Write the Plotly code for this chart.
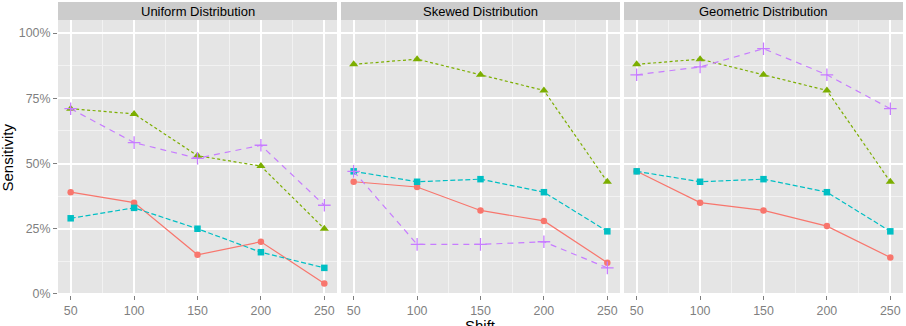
import plotly.graph_objects as go

# ---- data ----
shift = [50, 100, 150, 200, 250]
panels = ["Uniform Distribution", "Skewed Distribution", "Geometric Distribution"]
series_names = ["Series 1", "Series 2", "Series 3", "Series 4"]

uniform_s1 = [0.39, 0.35, 0.15, 0.20, 0.04]
uniform_s2 = [0.71, 0.69, 0.53, 0.49, 0.25]
uniform_s3 = [0.29, 0.33, 0.25, 0.16, 0.10]
uniform_s4 = [0.71, 0.58, 0.52, 0.57, 0.34]

skewed_s1 = [0.43, 0.41, 0.32, 0.28, 0.12]
skewed_s2 = [0.88, 0.90, 0.84, 0.78, 0.43]
skewed_s3 = [0.47, 0.43, 0.44, 0.39, 0.24]
skewed_s4 = [0.47, 0.19, 0.19, 0.20, 0.10]

geometric_s1 = [0.47, 0.35, 0.32, 0.26, 0.14]
geometric_s2 = [0.88, 0.90, 0.84, 0.78, 0.43]
geometric_s3 = [0.47, 0.43, 0.44, 0.39, 0.24]
geometric_s4 = [0.84, 0.87, 0.94, 0.84, 0.71]

y_ticks = [0, 0.25, 0.5, 0.75, 1.0]
y_tick_labels = ["0%", "25%", "50%", "75%", "100%"]
x_minor = [75, 125, 175, 225]
y_minor = [0.125, 0.375, 0.625, 0.875]

panel_data = [
    [uniform_s1, uniform_s2, uniform_s3, uniform_s4],
    [skewed_s1, skewed_s2, skewed_s3, skewed_s4],
    [geometric_s1, geometric_s2, geometric_s3, geometric_s4],
]

# ---- styles ----
colors = ["#F8766D", "#7CAE00", "#00BFC4", "#C77CFF"]
dashes = ["solid", "3px,2.5px", "5px,2.5px", "6px,5px"]
symbols = ["circle", "triangle-up", "square", "cross-thin"]
msizes = [6.5, 8, 6.5, 9]
font_family = "Liberation Sans, Arial, sans-serif"

W, H = 906, 326
ml, mr, mt, mb = 58, 3, 20, 31
pw = W - ml - mr
ph = H - mt - mb
panel_w = 279
gap = 4

fig = go.Figure()
for p, series in enumerate(panel_data):
    ax = "" if p == 0 else str(p + 1)
    for s, vals in enumerate(series):
        is_plus = symbols[s] == "cross-thin"
        fig.add_trace(go.Scatter(
            x=shift, y=vals, name=series_names[s], mode="lines+markers",
            xaxis="x" + ax, yaxis="y" + ax, showlegend=False,
            line=dict(color=colors[s], width=1.2, dash=dashes[s]),
            marker=dict(symbol=symbols[s], size=msizes[s], color=colors[s],
                        line=dict(color=colors[s], width=1.3 if is_plus else 0)),
        ))

layout = dict(
    width=W, height=H,
    margin=dict(l=ml, r=mr, t=mt, b=mb, pad=0),
    paper_bgcolor="white", plot_bgcolor="#E5E5E5",
    font=dict(family=font_family, color="black"),
    shapes=[], annotations=[],
)

for p in range(3):
    ax = "" if p == 0 else str(p + 1)
    x0 = p * (panel_w + gap) / pw
    x1 = min(1.0, (p * (panel_w + gap) + panel_w) / pw)
    layout["xaxis" + ax] = dict(
        domain=[x0, x1], range=[40, 260], anchor="y" + ax,
        tickvals=shift, ticks="outside", ticklen=4, tickwidth=1, tickcolor="#7F7F7F",
        tickfont=dict(size=12.4, color="#7F7F7F"),
        showgrid=True, gridcolor="white", gridwidth=1.5,
        minor=dict(tickvals=x_minor, showgrid=True, gridcolor="#F2F2F2", gridwidth=0.8),
        zeroline=False, showline=False, fixedrange=True,
    )
    layout["yaxis" + ax] = dict(
        domain=[0, 1], range=[-0.004, 1.05], anchor="x" + ax,
        tickvals=y_ticks, ticktext=y_tick_labels,
        ticks="outside" if p == 0 else "", ticklen=4, tickwidth=1, tickcolor="#7F7F7F",
        showticklabels=(p == 0),
        tickfont=dict(size=12.4, color="#7F7F7F"),
        showgrid=True, gridcolor="white", gridwidth=1.5,
        minor=dict(tickvals=y_minor, showgrid=True, gridcolor="#F2F2F2", gridwidth=0.8),
        zeroline=False, showline=False, fixedrange=True,
    )
    layout["shapes"].append(dict(
        type="rect", xref="x" + ax + " domain", yref="paper",
        x0=0, x1=1, y0=1, y1=1 + 18 / ph,
        fillcolor="#CCCCCC", line=dict(width=0), layer="above",
    ))
    layout["annotations"].append(dict(
        text=panels[p], xref="x" + ax + " domain", yref="paper",
        x=0.5, y=1 + 9 / ph, xanchor="center", yanchor="middle",
        showarrow=False, font=dict(size=13, color="black"),
    ))

layout["annotations"].append(dict(
    text="Sensitivity", xref="paper", yref="paper",
    x=(7 - ml) / pw, y=0.5, xanchor="center", yanchor="middle", textangle=-90,
    showarrow=False, font=dict(size=15, color="black"),
))
layout["annotations"].append(dict(
    text="Shift", xref="x2 domain", yref="paper",
    x=0.5, y=-(315 - (mt + ph)) / ph, xanchor="center", yanchor="top",
    showarrow=False, font=dict(size=15, color="black"),
))

fig.update_layout(**layout)
fig.write_html("out.html")
